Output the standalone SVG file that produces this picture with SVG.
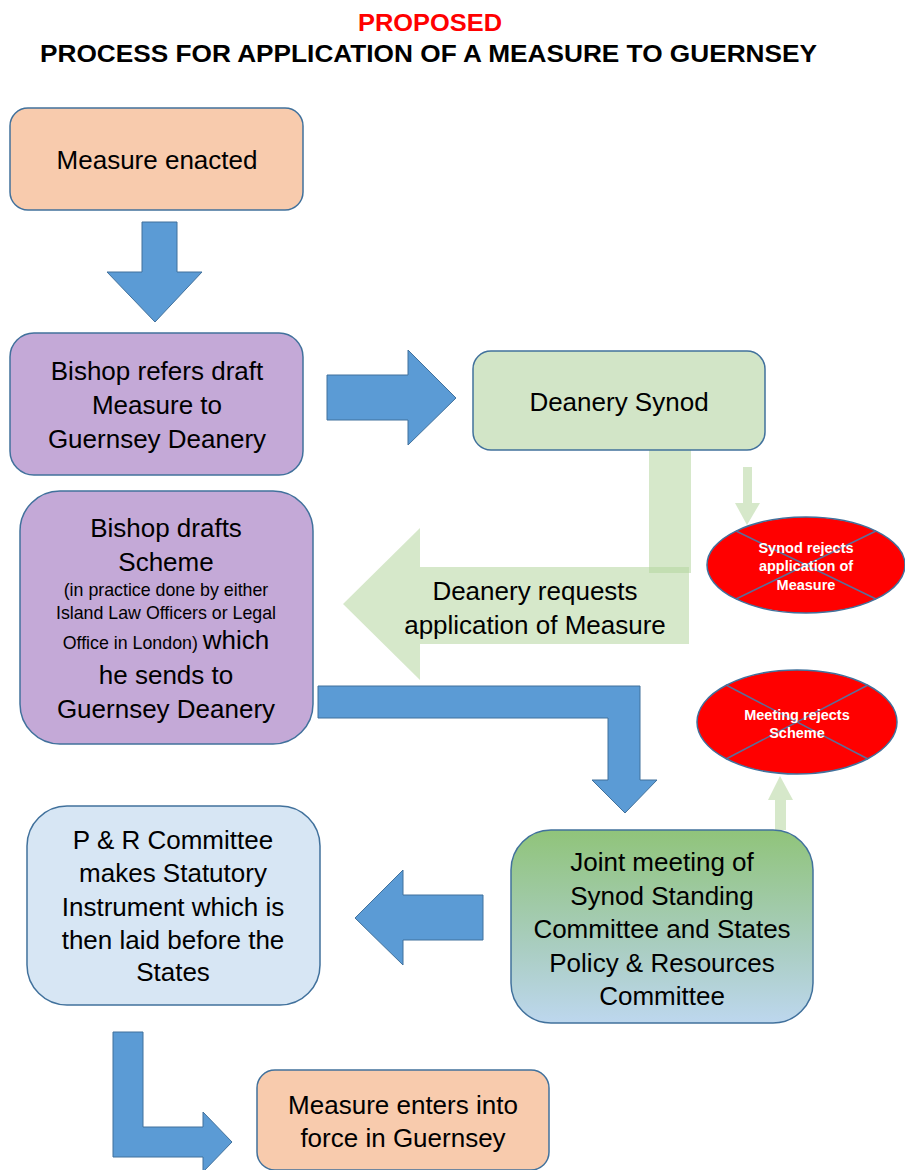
<svg xmlns="http://www.w3.org/2000/svg" width="905" height="1170" viewBox="0 0 905 1170">
<style>
.box{stroke:#41719c;stroke-width:1.5}
.t{font-family:"Liberation Sans",Arial,sans-serif;font-size:26px;fill:#000;text-anchor:middle}
.s{font-size:17.8px}
.w{font-family:"Liberation Sans",Arial,sans-serif;font-size:14.5px;font-weight:bold;fill:#fff;text-anchor:middle}
.blue{fill:#5b9bd5;stroke:#41719c;stroke-width:1}
.lg{fill:#b4d59e;opacity:0.55}
.rej{fill:#ff0000;stroke:#41719c;stroke-width:1.5}
.x{stroke:#5a6e9a;stroke-width:1.5}
</style>
<defs>
<linearGradient id="gj" x1="0" y1="0" x2="0" y2="1">
<stop offset="0" stop-color="#90c47a"/>
<stop offset="0.6" stop-color="#a9cdc0"/>
<stop offset="1" stop-color="#bdd7ee"/>
</linearGradient>
</defs>
<g id="title">
<text x="430" y="31" style="font-family:'Liberation Sans',Arial,sans-serif;font-weight:bold;font-size:23px;fill:#ff0000;text-anchor:middle" textLength="144" lengthAdjust="spacingAndGlyphs">PROPOSED</text>
<text x="40" y="62" style="font-family:'Liberation Sans',Arial,sans-serif;font-weight:bold;font-size:23px;fill:#000" textLength="777" lengthAdjust="spacingAndGlyphs">PROCESS FOR APPLICATION OF A MEASURE TO GUERNSEY</text>
</g>
<g id="connectors">
<polygon class="blue" points="142,222 177,222 177,272 202,272 155,322 107,272 142,272"/>
<polygon class="blue" points="327,375 408,375 408,350 456,398 408,445 408,420 327,420"/>
<rect class="lg" x="649" y="450" width="42" height="123"/>
<polygon class="lg" points="689,567 689,644 420,644 420,680 343,604 420,528 420,567"/>
<polygon class="lg" points="743,467 752,467 752,503 760,503 747,525 735,503 743,503"/>
<polygon class="blue" points="318,686 640,686 640,780 657,780 625,813 592,780 608,780 608,718 318,718"/>
<polygon class="lg" points="775,830 786,830 786,800 793,800 780,776 768,800 775,800"/>
<polygon class="blue" points="483,895 483,940 403,940 403,965 355,918 403,870 403,895"/>
<polygon class="blue" points="113,1032 143,1032 143,1127 203,1127 203,1112 232,1142 203,1172 203,1157 113,1157"/>
</g>
<g id="n1">
<rect class="box" x="10" y="108" width="293" height="102" rx="18" fill="#f8cbad"/>
<text class="t" x="157" y="169">Measure enacted</text>
</g>
<g id="n2">
<rect class="box" x="10" y="333" width="293" height="142" rx="24" fill="#c4a9d7"/>
<text class="t" x="157" y="380">Bishop refers draft</text>
<text class="t" x="157" y="414">Measure to</text>
<text class="t" x="157" y="448">Guernsey Deanery</text>
</g>
<g id="n3">
<rect class="box" x="473" y="351" width="292" height="99" rx="18" fill="#d2e5c7"/>
<text class="t" x="619" y="411">Deanery Synod</text>
</g>
<g id="lbl">
<text class="t" x="535" y="600">Deanery requests</text>
<text class="t" x="535" y="634">application of Measure</text>
</g>
<g id="n4">
<ellipse class="rej" cx="806" cy="565" rx="99" ry="48"/>
<line class="x" x1="736" y1="531" x2="876" y2="599"/>
<line class="x" x1="876" y1="531" x2="736" y2="599"/>
<text class="w" x="806" y="553">Synod rejects</text>
<text class="w" x="806" y="571">application of</text>
<text class="w" x="806" y="590">Measure</text>
</g>
<g id="n5">
<rect class="box" x="20" y="491" width="293" height="253" rx="40" fill="#c4a9d7"/>
<text class="t" x="166" y="537">Bishop drafts</text>
<text class="t" x="166" y="571">Scheme</text>
<text class="t s" x="166" y="596">(in practice done by either</text>
<text class="t s" x="166" y="619">Island Law Officers or Legal</text>
<text class="t" x="166" y="649"><tspan class="s">Office in London) </tspan>which</text>
<text class="t" x="166" y="684">he sends to</text>
<text class="t" x="166" y="718">Guernsey Deanery</text>
</g>
<g id="n6">
<ellipse class="rej" cx="797" cy="722" rx="100" ry="52"/>
<line class="x" x1="726" y1="685" x2="868" y2="759"/>
<line class="x" x1="868" y1="685" x2="726" y2="759"/>
<text class="w" x="797" y="720">Meeting rejects</text>
<text class="w" x="797" y="738">Scheme</text>
</g>
<g id="n7">
<rect class="box" x="511" y="830" width="302" height="193" rx="40" fill="url(#gj)"/>
<text class="t" x="662" y="871">Joint meeting of</text>
<text class="t" x="662" y="905">Synod Standing</text>
<text class="t" x="662" y="938">Committee and States</text>
<text class="t" x="662" y="972">Policy &amp; Resources</text>
<text class="t" x="662" y="1005">Committee</text>
</g>
<g id="n8">
<rect class="box" x="27" y="806" width="293" height="199" rx="40" fill="#d7e6f4"/>
<text class="t" x="173" y="849">P &amp; R Committee</text>
<text class="t" x="173" y="882">makes Statutory</text>
<text class="t" x="173" y="916">Instrument which is</text>
<text class="t" x="173" y="949">then laid before the</text>
<text class="t" x="173" y="981">States</text>
</g>
<g id="n9">
<rect class="box" x="257" y="1070" width="292" height="100" rx="18" fill="#f8cbad"/>
<text class="t" x="403" y="1114">Measure enters into</text>
<text class="t" x="403" y="1147">force in Guernsey</text>
</g>
</svg>
